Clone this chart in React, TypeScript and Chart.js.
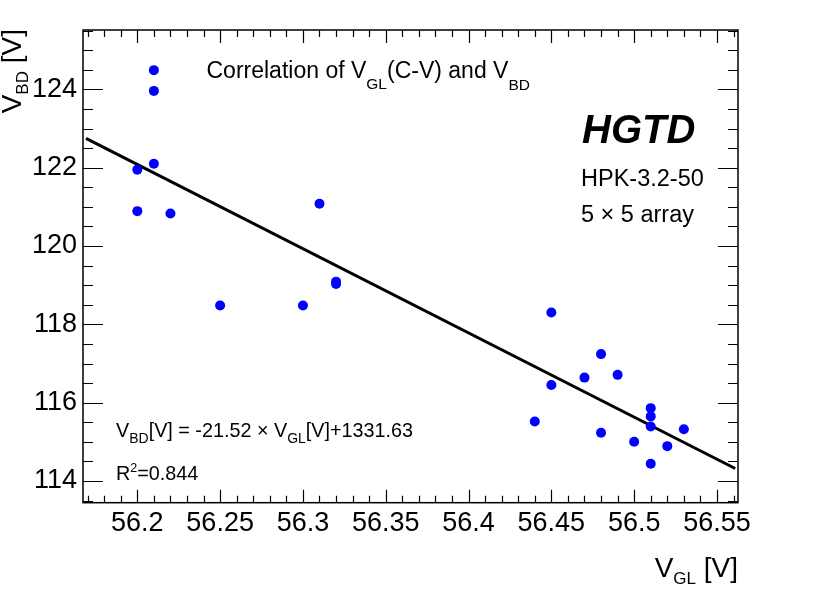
import React, { useEffect, useRef } from "react";
import { Chart, registerables } from "chart.js";
Chart.register(...registerables);

// Data
const vgl = [56.21, 56.21, 56.20, 56.21, 56.20, 56.22, 56.25, 56.30, 56.31, 56.32, 56.32, 56.45, 56.48, 56.47, 56.49, 56.45, 56.44, 56.51, 56.51, 56.51, 56.53, 56.48, 56.50, 56.52, 56.51];
const vbd = [124.49, 123.96, 121.95, 122.10, 120.89, 120.83, 118.48, 118.48, 121.08, 119.09, 119.03, 118.30, 117.24, 116.64, 116.71, 116.45, 115.52, 115.86, 115.65, 115.39, 115.32, 115.23, 115.00, 114.89, 114.44];
const fitX = [56.169, 56.561];
const fitY = [122.75, 114.32];
const xRange = [56.1672, 56.5627];
const yRange = [113.446, 125.515];
const xTickStep = 0.05;
const yTickStep = 2;

const FONT = "'Liberation Sans', Arial, Helvetica, sans-serif";

type Seg = { t: string; size: number; dy?: number; weight?: string };

function drawRich(ctx: CanvasRenderingContext2D, segs: Seg[], x: number, y: number, align: "left" | "right" = "left") {
  const font = (s: Seg) => `${s.weight || "normal"} ${s.size}px ${FONT}`;
  let total = 0;
  const widths = segs.map((s) => {
    ctx.font = font(s);
    const w = ctx.measureText(s.t).width;
    total += w;
    return w;
  });
  let cx = align === "right" ? x - total : x;
  ctx.textAlign = "left";
  ctx.textBaseline = "alphabetic";
  segs.forEach((s, i) => {
    ctx.font = font(s);
    ctx.fillText(s.t, cx, y + (s.dy || 0));
    cx += widths[i];
  });
  return total;
}

const framePlugin = {
  id: "frameTicks",
  afterDatasetsDraw(chart: any) {
    const { ctx, chartArea } = chart;
    const { left, right, top, bottom } = chartArea;
    const xs = chart.scales.x;
    const ys = chart.scales.y;
    ctx.save();
    ctx.strokeStyle = "#000";
    ctx.lineWidth = 1.5;
    ctx.strokeRect(left, top, right - left, bottom - top);
    ctx.lineWidth = 1.2;
    ctx.beginPath();
    const xMinor = xTickStep / 5;
    for (let i = Math.ceil(xs.min / xMinor - 1e-9); i * xMinor <= xs.max + 1e-9; i++) {
      const v = i * xMinor;
      const major = i % 5 === 0;
      const len = major ? 13 : 7;
      const px = Math.round(xs.getPixelForValue(v)) + 0.5;
      ctx.moveTo(px, bottom);
      ctx.lineTo(px, bottom - len);
      ctx.moveTo(px, top);
      ctx.lineTo(px, top + len);
    }
    const yMinor = yTickStep / 4;
    for (let i = Math.ceil(ys.min / yMinor - 1e-9); i * yMinor <= ys.max + 1e-9; i++) {
      const v = i * yMinor;
      const major = i % 4 === 0;
      const len = major ? 20 : 10;
      const py = Math.round(ys.getPixelForValue(v)) + 0.5;
      ctx.moveTo(left, py);
      ctx.lineTo(left + len, py);
      ctx.moveTo(right, py);
      ctx.lineTo(right - len, py);
    }
    ctx.stroke();
    ctx.restore();
  },
  afterDraw(chart: any) {
    const { ctx } = chart;
    ctx.save();
    ctx.fillStyle = "#000";
    drawRich(ctx, [
      { t: "Correlation of V", size: 23 },
      { t: "GL", size: 15.5, dy: 11 },
      { t: "(C-V) and V", size: 23 },
      { t: "BD", size: 15.5, dy: 12 },
    ], 206.5, 78.3);
    ctx.font = `italic bold 40px ${FONT}`;
    ctx.textAlign = "left";
    ctx.textBaseline = "alphabetic";
    ctx.fillText("HGTD", 582, 143.3);
    drawRich(ctx, [{ t: "HPK-3.2-50", size: 23.5 }], 581, 186);
    drawRich(ctx, [{ t: "5 \u00D7 5 array", size: 23.5 }], 581, 221.7);
    drawRich(ctx, [
      { t: "V", size: 19.8 },
      { t: "BD", size: 14, dy: 6 },
      { t: "[V] = -21.52 \u00D7 V", size: 19.8 },
      { t: "GL", size: 14, dy: 6 },
      { t: "[V]+1331.63", size: 19.8 },
    ], 116, 437);
    drawRich(ctx, [
      { t: "R", size: 19.8 },
      { t: "2", size: 12.5, dy: -8.5 },
      { t: "=0.844", size: 19.8 },
    ], 116, 480);
    drawRich(ctx, [
      { t: "V", size: 28 },
      { t: "GL", size: 17, dy: 7 },
      { t: " [V]", size: 28 },
    ], 738, 577.3, "right");
    ctx.translate(21, 29);
    ctx.rotate(-Math.PI / 2);
    drawRich(ctx, [
      { t: "V", size: 28 },
      { t: "BD", size: 17, dy: 7 },
      { t: " [V]", size: 28 },
    ], 0, 0, "right");
    ctx.restore();
  },
};

export default function App() {
  const ref = useRef<HTMLCanvasElement | null>(null);
  useEffect(() => {
    if (!ref.current) return;
    const chart = new Chart(ref.current, {
      type: "scatter",
      data: {
        datasets: [
          {
            label: "data",
            data: vgl.map((x, i) => ({ x, y: vbd[i] })),
            backgroundColor: "#0000ff",
            borderWidth: 0,
            pointRadius: 5,
            pointHoverRadius: 5,
          },
          {
            label: "fit",
            data: fitX.map((x, i) => ({ x, y: fitY[i] })),
            showLine: true,
            borderColor: "#000",
            borderWidth: 3,
            pointRadius: 0,
            pointHoverRadius: 0,
          },
        ],
      },
      options: {
        responsive: false,
        animation: false,
        devicePixelRatio: 1,
        layout: { padding: { top: 30, right: 92, left: 0, bottom: 0 } },
        plugins: { legend: { display: false }, tooltip: { enabled: false } },
        scales: {
          x: {
            type: "linear",
            min: xRange[0],
            max: xRange[1],
            grid: { display: false, drawTicks: false },
            border: { display: false },
            afterFit: (s: any) => { s.height = 96.3; },
            ticks: {
              stepSize: xTickStep,
              includeBounds: false,
              padding: 5,
              color: "#000",
              font: { family: FONT, size: 27 },
              maxRotation: 0,
              callback: (v: any) => String(Number(Number(v).toFixed(2))),
            },
          },
          y: {
            type: "linear",
            min: yRange[0],
            max: yRange[1],
            grid: { display: false, drawTicks: false },
            border: { display: false },
            afterFit: (s: any) => { s.width = 83; },
            ticks: {
              stepSize: yTickStep,
              includeBounds: false,
              padding: 6,
              color: "#000",
              font: { family: FONT, size: 27 },
              callback: (v: any) => String(Number(Number(v).toFixed(2))),
            },
          },
        },
      },
      plugins: [framePlugin],
    } as any);
    return () => chart.destroy();
  }, []);
  return (
    <div style={{ position: "absolute", left: 0, top: 0, width: 830, height: 599, background: "#fff" }}>
      <canvas ref={ref} width={830} height={599} style={{ display: "block" }} />
    </div>
  );
}
